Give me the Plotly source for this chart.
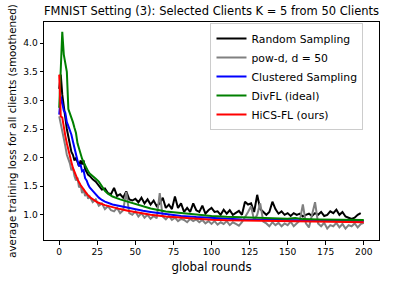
import plotly.graph_objects as go

# ---------------- data ----------------
x_noisy = list(range(0, 21)) + list(range(22, 201, 2))

random_sampling = [
    3.2, 3.45, 3.1, 2.85, 2.7, 2.5, 2.35, 2.25, 2.1, 2.05, 1.95, 2.0, 1.9, 1.85, 1.95, 1.88, 1.95, 1.8, 1.75, 1.7, 1.68,
    1.62, 1.58, 1.5, 1.44, 1.46, 1.38, 1.36, 1.47, 1.33, 1.36, 1.3, 1.41, 1.27, 1.25, 1.28, 1.22, 1.3, 1.2, 1.27, 1.18,
    1.25, 1.15, 1.2, 1.3, 1.12, 1.18, 1.1, 1.32, 1.12, 1.2, 1.05, 1.12, 1.05, 1.2, 1.08, 1.05, 1.16, 1.02, 1.08, 1.12,
    1.05, 1.06, 1.0, 1.09, 1.02, 1.08, 1.0, 1.03, 1.07, 1.0, 1.23, 1.18, 1.2, 1.05, 1.35, 1.1, 1.05, 1.0, 1.05, 1.23,
    1.1, 1.02, 1.06, 1.0, 1.03, 0.98, 1.03, 1.0, 1.02, 0.97, 1.0, 1.02, 0.98, 1.03, 1.0, 1.05, 0.98, 1.0, 1.06, 1.03,
    1.09, 1.0, 1.05, 0.97, 0.95, 0.93, 0.95, 1.0, 1.03,
]

pow_d = [
    2.72, 2.6, 2.45, 2.3, 2.2, 2.05, 1.98, 1.9, 1.78, 1.82, 1.68, 1.6, 1.65, 1.48, 1.52, 1.38, 1.45, 1.33, 1.38, 1.28, 1.32,
    1.22, 1.27, 1.16, 1.2, 1.1, 1.15, 1.08, 1.06, 1.12, 1.03, 1.08, 1.4, 1.03, 1.0, 1.06, 0.97, 1.03, 0.95, 1.0, 0.93,
    0.98, 0.94, 1.38, 0.97, 0.92, 0.98, 0.91, 0.95, 0.89, 0.93, 0.91, 0.87, 0.93, 0.89, 0.92, 0.87, 0.91, 0.85, 0.89, 0.84,
    0.89, 0.83, 0.87, 0.84, 0.89, 0.82, 0.87, 0.84, 0.81, 0.87, 0.95, 1.05, 1.15, 0.9, 1.0, 1.2, 0.88, 0.85, 0.8, 0.87,
    0.82, 0.86, 0.8, 0.85, 0.82, 0.88, 0.8, 0.85, 0.9, 1.18, 0.85, 0.78, 1.0, 1.22, 0.85, 0.8, 0.86, 0.76, 0.82, 0.8,
    0.86, 0.78, 0.84, 0.76, 0.82, 0.8, 0.85, 0.78, 0.84, 0.86,
]

x_blue = list(range(0, 21)) + [22, 24, 26, 28, 30, 35, 40, 45, 50, 55, 60, 70, 80, 90, 100, 110, 120, 130, 140, 150, 160, 170, 180, 190, 200]
clustered = [
    2.75, 3.07, 2.95, 2.82, 2.78, 2.62, 2.55, 2.48, 2.4, 2.28, 2.15, 2.05, 1.95, 1.85, 1.88, 1.76, 1.78, 1.64, 1.6, 1.53, 1.48,
    1.42, 1.36, 1.3, 1.26, 1.23, 1.18, 1.15, 1.12, 1.1, 1.07, 1.05, 1.01, 0.98, 0.96, 0.945, 0.93, 0.92, 0.915, 0.91, 0.905,
    0.9, 0.9, 0.895, 0.89, 0.89,
]

x_green = list(range(0, 21)) + [22, 24, 26, 28, 30, 32, 35, 40, 45, 50, 55, 60, 70, 80, 90, 100, 110, 120, 130, 140, 150, 155, 160, 170, 180, 190, 200]
divfl = [
    2.87, 3.5, 4.2, 3.8, 3.65, 3.5, 2.85, 2.78, 2.72, 2.62, 2.52, 2.43, 2.25, 2.15, 2.06, 1.98, 1.92, 1.86, 1.8, 1.76, 1.72,
    1.68, 1.63, 1.58, 1.5, 1.42, 1.37, 1.32, 1.27, 1.23, 1.18, 1.14, 1.11, 1.06, 1.03, 1.0, 0.98, 0.965, 0.955, 0.945, 0.94,
    0.93, 0.945, 0.925, 0.92, 0.915, 0.91, 0.91,
]

x_red = list(range(0, 13)) + [14, 16, 18, 20, 22, 25, 30, 35, 40, 45, 50, 55, 60, 70, 80, 90, 100, 110, 120, 130, 140, 150, 160, 170, 180, 190, 200]
hics = [
    3.45, 2.72, 2.7, 2.5, 2.38, 2.25, 2.12, 2.02, 1.92, 1.82, 1.74, 1.68, 1.62,
    1.52, 1.44, 1.37, 1.31, 1.27, 1.22, 1.17, 1.13, 1.1, 1.07, 1.045, 1.02, 1.0, 0.97, 0.95, 0.93, 0.915, 0.905, 0.9,
    0.895, 0.89, 0.885, 0.88, 0.88, 0.875, 0.87, 0.87,
]

series = [
    ("Random Sampling", x_noisy, random_sampling, "black"),
    ("pow-d, d = 50", x_noisy, pow_d, "grey"),
    ("Clustered Sampling", x_blue, clustered, "blue"),
    ("DivFL (ideal)", x_green, divfl, "green"),
    ("HiCS-FL (ours)", x_red, hics, "red"),
]

fig = go.Figure()
for name, xs, ys, col in series:
    fig.add_trace(go.Scatter(x=xs, y=ys, mode="lines", name=name,
                             line=dict(color=col, width=2)))

font_family = "DejaVu Sans, sans-serif"
fig.update_layout(
    width=393, height=281,
    margin=dict(l=44, r=14, t=22, b=41),
    paper_bgcolor="white", plot_bgcolor="white",
    font=dict(family=font_family, color="black", size=9),
    title=dict(text="FMNIST Setting (3): Selected Clients K = 5 from 50 Clients",
               x=0.5, xanchor="center", y=0.96, yanchor="middle",
               xref="paper", font=dict(size=11.5, family=font_family)),
    showlegend=True,
    legend=dict(x=0.497, y=0.995, xanchor="left", yanchor="top",
                bgcolor="rgba(255,255,255,0.8)", bordercolor="#cccccc", borderwidth=1,
                font=dict(size=10.8, family=font_family), tracegroupgap=0,
                itemwidth=30),
)
fig.update_xaxes(range=[-10, 210], tickvals=[0, 25, 50, 75, 100, 125, 150, 175, 200],
                 showline=True, linecolor="black", linewidth=1, mirror=True, automargin=False,
                 ticks="outside", ticklen=3.5, tickcolor="black", showgrid=False, zeroline=False,
                 title=dict(text="global rounds", font=dict(size=11.8), standoff=6),
                 tickfont=dict(size=9.1))
fig.update_yaxes(range=[0.56, 4.37], tickvals=[1.0, 1.5, 2.0, 2.5, 3.0, 3.5, 4.0],
                 ticktext=["1.0", "1.5", "2.0", "2.5", "3.0", "3.5", "4.0"],
                 showline=True, linecolor="black", linewidth=1, mirror=True, automargin=False,
                 ticks="outside", ticklen=3.5, tickcolor="black", showgrid=False, zeroline=False,
                 title=dict(text="average training loss for all clients (smoothened)", font=dict(size=10.3), standoff=4),
                 tickfont=dict(size=9.1))

fig.write_html("out.html", config={"displayModeBar": False},
               post_script="document.body.style.margin='0';")
